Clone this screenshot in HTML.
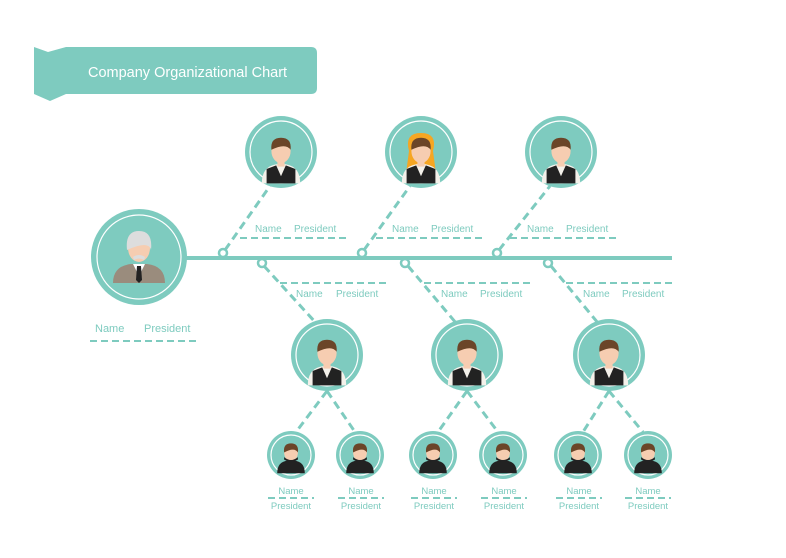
<!DOCTYPE html>
<html><head><meta charset="utf-8"><style>
html,body{margin:0;padding:0;background:#fff;width:786px;height:558px;overflow:hidden}
svg text{font-family:"Liberation Sans",sans-serif;fill:#7ecbbf}
</style></head><body>
<svg width="786" height="558" viewBox="0 0 786 558" xmlns="http://www.w3.org/2000/svg">
<defs>
<g id="av">
 <path d="M-16 22 Q-16 8 -4 6 L4 6 Q16 8 16 22 Z" fill="#f4f1ea"/>
 <path d="M-12 22 L-12 10 L-4 7 L0 16 L4 7 L12 10 L12 22 Z" fill="#222"/>
 <rect x="-3" y="2" width="6" height="6" fill="#f6cdb1"/>
 <ellipse cx="0" cy="-5" rx="8" ry="10" fill="#f6cdb1"/>
 <path d="M-8 -6 Q-9 -16 0 -16 Q9 -16 8 -6 Q4 -12 -8 -6 Z" fill="#6b4528"/>
</g>
<g id="sm">
 <path d="M-12 15 Q-12 5 -3 4 L3 4 Q12 5 12 15 Z" fill="#222"/>
 <ellipse cx="0" cy="-3" rx="6" ry="7.5" fill="#f6cdb1"/>
 <path d="M-6 -3 Q-7 -11 0 -11 Q7 -11 6 -3 Q3 -8 -6 -3 Z" fill="#6b4528"/>
 <path d="M-6 1 Q0 6 6 1 L6 3 Q0 7 -6 3 Z" fill="#222"/>
</g>
</defs>
<path d="M34 47 L48 52 L66 47 L311 47 Q317 47 317 53 L317 88 Q317 94 311 94 L66 94 L50 101 L34 94 Z" fill="#7ecbbf"/>
<text x="88" y="77" font-size="14.5" style="fill:#fff">Company Organizational Chart</text>

<g stroke="#7ecbbf" fill="none">
<line x1="185" y1="258" x2="672" y2="258" stroke-width="4"/>
<g stroke-width="3" stroke-dasharray="8,5">
<line x1="225" y1="250" x2="270" y2="186"/>
<line x1="364" y1="250" x2="410" y2="186"/>
<line x1="499" y1="250" x2="550" y2="186"/>
<line x1="264" y1="266" x2="316" y2="323"/>
<line x1="408" y1="266" x2="456" y2="323"/>
<line x1="551" y1="266" x2="598" y2="323"/>
<line x1="327" y1="391" x2="296" y2="432"/><line x1="327" y1="391" x2="355" y2="432"/>
<line x1="467" y1="391" x2="438" y2="432"/><line x1="467" y1="391" x2="498" y2="432"/>
<line x1="609" y1="391" x2="583" y2="432"/><line x1="609" y1="391" x2="643" y2="432"/>
</g>
<g stroke-width="2" stroke-dasharray="7,4">
<line x1="240" y1="238" x2="348" y2="238"/>
<line x1="376" y1="238" x2="484" y2="238"/>
<line x1="510" y1="238" x2="620" y2="238"/>
<line x1="280" y1="283" x2="390" y2="283"/>
<line x1="424" y1="283" x2="532" y2="283"/>
<line x1="566" y1="283" x2="675" y2="283"/>
<line x1="90" y1="341" x2="200" y2="341"/>
<line x1="268" y1="498" x2="314" y2="498"/><line x1="338" y1="498" x2="384" y2="498"/>
<line x1="411" y1="498" x2="457" y2="498"/><line x1="481" y1="498" x2="527" y2="498"/>
<line x1="556" y1="498" x2="602" y2="498"/><line x1="625" y1="498" x2="671" y2="498"/>
</g>
<g stroke-width="2.5" fill="#fff">
<circle cx="223" cy="253" r="4"/><circle cx="362" cy="253" r="4"/><circle cx="497" cy="253" r="4"/>
<circle cx="262" cy="263" r="4"/><circle cx="405" cy="263" r="4"/><circle cx="548" cy="263" r="4"/>
</g>
</g>

<g fill="#7ecbbf">
<circle cx="139" cy="257" r="48"/>
<circle cx="281" cy="152" r="36"/><circle cx="421" cy="152" r="36"/><circle cx="561" cy="152" r="36"/>
<circle cx="327" cy="355" r="36"/><circle cx="467" cy="355" r="36"/><circle cx="609" cy="355" r="36"/>
<circle cx="291" cy="455" r="24"/><circle cx="360" cy="455" r="24"/><circle cx="433" cy="455" r="24"/>
<circle cx="503" cy="455" r="24"/><circle cx="578" cy="455" r="24"/><circle cx="648" cy="455" r="24"/>
</g>
<g fill="none" stroke="#fff" stroke-width="1.2">
<circle cx="139" cy="257" r="42"/>
<circle cx="281" cy="152" r="31"/><circle cx="421" cy="152" r="31"/><circle cx="561" cy="152" r="31"/>
<circle cx="327" cy="355" r="31"/><circle cx="467" cy="355" r="31"/><circle cx="609" cy="355" r="31"/>
<circle cx="291" cy="455" r="20"/><circle cx="360" cy="455" r="20"/><circle cx="433" cy="455" r="20"/>
<circle cx="503" cy="455" r="20"/><circle cx="578" cy="455" r="20"/><circle cx="648" cy="455" r="20"/>
</g>
<g transform="translate(139,258)">
<path d="M-26 25 Q-26 8 -8 6 L8 6 Q26 8 26 25 Z" fill="#9a8c7d"/>
<path d="M-6 6 L0 18 L6 6 Z" fill="#fff"/><path d="M-2 8 L2 8 L3 22 L0 25 L-3 22 Z" fill="#222"/>
<ellipse cx="0" cy="-10" rx="11" ry="14" fill="#f6cdb1"/>
<path d="M-12 -8 Q-14 -27 0 -27 Q14 -27 12 -8 Q10 -18 -12 -8Z" fill="#ddd"/>
<path d="M-6 -1 Q0 -5 6 -1 L5 2 Q0 -1 -5 2Z" fill="#ddd"/>
</g>
<use href="#av" transform="translate(281,157) scale(1.2)"/>
<g transform="translate(421,157) scale(1.2)"><path d="M-10 -5 Q-14 -20 0 -20 Q14 -20 10 -5 L12 10 L-12 10Z" fill="#f5a623"/></g>
<use href="#av" transform="translate(421,157) scale(1.2)"/>
<use href="#av" transform="translate(561,157) scale(1.2)"/>
<use href="#av" transform="translate(327,359) scale(1.2)"/>
<use href="#av" transform="translate(467,359) scale(1.2)"/>
<use href="#av" transform="translate(609,359) scale(1.2)"/>
<use href="#sm" transform="translate(291,456) scale(1.15)"/><use href="#sm" transform="translate(360,456) scale(1.15)"/>
<use href="#sm" transform="translate(433,456) scale(1.15)"/><use href="#sm" transform="translate(503,456) scale(1.15)"/>
<use href="#sm" transform="translate(578,456) scale(1.15)"/><use href="#sm" transform="translate(648,456) scale(1.15)"/>

<g font-size="10">
<text x="255" y="232">Name</text><text x="294" y="232">President</text>
<text x="392" y="232">Name</text><text x="431" y="232">President</text>
<text x="527" y="232">Name</text><text x="566" y="232">President</text>
<text x="296" y="297">Name</text><text x="336" y="297">President</text>
<text x="441" y="297">Name</text><text x="480" y="297">President</text>
<text x="583" y="297">Name</text><text x="622" y="297">President</text>
</g>
<g font-size="11"><text x="95" y="332">Name</text><text x="144" y="332">President</text></g>
<g font-size="9.5" text-anchor="middle">
<text x="291" y="494">Name</text><text x="291" y="509">President</text>
<text x="361" y="494">Name</text><text x="361" y="509">President</text>
<text x="434" y="494">Name</text><text x="434" y="509">President</text>
<text x="504" y="494">Name</text><text x="504" y="509">President</text>
<text x="579" y="494">Name</text><text x="579" y="509">President</text>
<text x="648" y="494">Name</text><text x="648" y="509">President</text>
</g>
</svg>
</body></html>
